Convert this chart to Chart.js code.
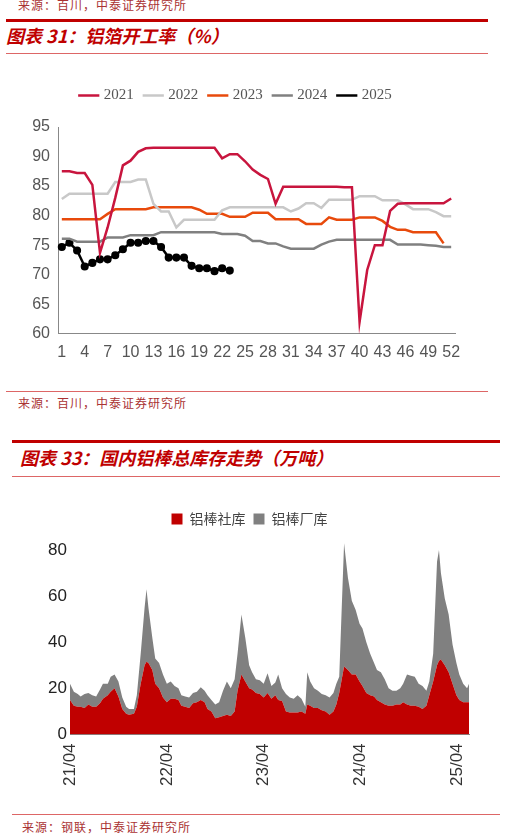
<!DOCTYPE html>
<html>
<head>
<meta charset="utf-8">
<script src="https://cdn.jsdelivr.net/npm/chart.js@4"></script>
<style>
  body { margin: 0; width: 505px; height: 840px; background: #fff; position: relative; overflow: hidden;
         font-family: "Noto Sans CJK SC", sans-serif; }
  .abs { position: absolute; }
  .src { font-size: 12px; color: #a33; letter-spacing: 1px; }
  .title { font-size: 18px; font-weight: bold; font-style: italic; color: #c00000; }
  .thick { height: 3px; background: #c00000; }
  .thin { height: 1px; background: #d66; }
</style>
</head>
<body>
<div class="abs src" style="left:18px;top:-4px;">来源：百川，中泰证券研究所</div>
<div class="abs thick" style="left:6px;top:19px;width:482px;"></div>
<div class="abs title" style="left:6px;top:22px;">图表 31：铝箔开工率（%）</div>
<div class="abs thin" style="left:6px;top:53px;width:482px;"></div>
<div class="abs" style="left:0;top:72px;width:505px;height:300px;"><canvas id="c1"></canvas></div>
<div class="abs thin" style="left:6px;top:391px;width:482px;"></div>
<div class="abs src" style="left:18px;top:394px;">来源：百川，中泰证券研究所</div>

<div class="abs thick" style="left:12px;top:440px;width:488px;"></div>
<div class="abs title" style="left:20px;top:444px;">图表 33：国内铝棒总库存走势（万吨）</div>
<div class="abs thin" style="left:12px;top:476px;width:488px;"></div>
<div class="abs" style="left:0;top:496px;width:505px;height:295px;"><canvas id="c2"></canvas></div>
<div class="abs thin" style="left:12px;top:814px;width:488px;"></div>
<div class="abs src" style="left:22px;top:818px;">来源：钢联，中泰证券研究所</div>

<script>
// chart 1: aluminium foil operating rate (%), by week
var weeks = [];
for (var i = 1; i <= 52; i++) weeks.push(String(i));
var y2021 = [87.5,87.5,87.2,87.2,85.2,73.7,78,83,88.5,89.3,90.8,91.4,91.5,91.5,91.5,91.5,91.5,91.5,91.5,91.5,91.5,89.7,90.4,90.4,89.2,87.8,86.9,86.2,82,84.9,84.9,84.9,84.9,84.9,84.9,84.9,84.9,84.8,84.8,62,70.8,75,75,80.8,82,82.1,82.1,82.1,82.1,82.1,82.1,82.9];
var y2022 = [82.8,83.7,83.7,83.7,83.7,83.7,83.7,85.7,85.7,85.7,86.1,86.1,82,80.7,80.7,78,79.3,79.3,79.3,79.3,79.3,80.9,81.4,81.4,81.4,81.4,81.4,81.4,81.4,81.4,80.7,81.2,82.1,82.1,81.3,82.7,82.7,82.7,82.7,83.3,83.3,83.3,82.6,82.6,82.6,81.9,81.1,81.1,81.1,80.6,79.9,79.9];
var y2023 = [79.4,79.4,79.4,79.4,79.4,79.4,80.3,81.1,81.1,81.1,81.1,81.1,81.4,81.4,81.4,81.4,81.4,81.4,81,80.3,80.3,80.3,79.8,79.8,79.8,80.5,80.5,80.5,79.4,79.4,79.4,79.4,78.6,78.6,78.6,79.7,79.3,79.3,79.3,79.7,79.7,79.7,79.1,78.1,77.6,77.6,77.2,77.2,77.2,77.2,75.3];
var y2024 = [76.1,76.1,75.6,75.6,75.6,75.6,76.3,76.3,76.3,76.7,76.7,76.7,76.7,77.2,77.2,77.2,77.2,77.2,77.2,77.2,77.2,76.9,76.9,76.9,76.6,75.7,75.7,75.3,75.3,74.8,74.4,74.4,74.4,74.4,75.1,75.6,75.9,75.9,75.9,75.9,75.9,75.9,75.9,75.9,75.1,75.1,75.1,75.1,75,74.9,74.7,74.7];
var y2025 = [74.7,75.4,74.1,71.4,72,72.6,72.6,73.3,74.3,75.4,75.4,75.7,75.7,74.7,72.9,72.9,72.9,71.5,71.1,71.1,70.6,71.1,70.7];

// chart 2: aluminium rod inventory (10k t); x in years since 21/04
var yearTicks = ['21/04','22/04','23/04','24/04','25/04'];
var invX = [0,.04,.08,.11,.15,.19,.23,.27,.31,.34,.39,.42,.46,.50,.54,.58,.61,.66,.69,.73,.77,.79,.81,.85,.88,.92,.96,1.0,
  1.04,1.08,1.12,1.15,1.19,1.23,1.27,1.31,1.35,1.39,1.42,1.46,1.50,1.54,1.58,1.62,1.66,1.70,1.73,1.77,1.81,1.85,1.88,1.92,1.96,2.0,
  2.04,2.08,2.12,2.15,2.19,2.23,2.27,2.31,2.35,2.39,2.43,2.45,2.48,2.52,2.56,2.60,2.64,2.68,2.72,2.75,2.78,2.83,2.87,2.91,2.95,2.99,3.02,
  3.06,3.10,3.14,3.17,3.21,3.25,3.29,3.33,3.37,3.41,3.44,3.48,3.52,3.56,3.60,3.64,3.68,3.71,3.75,3.79,3.81,3.83,3.87,3.91,3.95,3.99,4.02,4.06,4.10,4.12];
var invShe = [15,12.5,12,12,11.5,13,12,12,13.5,15.5,17,18.5,20,16.5,11,9,8.5,9,12,22,30,31.5,31,28,22,20,16,14,
  15.5,15.5,15,12.5,12,11.5,13.5,14,15,14,11,10,7,7.5,8,8.5,8,10,19,26,23,20,19.5,18,17.5,16,
  18,15.5,17,15,14.5,10,9.5,9.5,9.5,10,9,13,12.5,11.5,11.5,10.5,10,8.5,10,13,18,29.5,28,26,26,23,21,
  18,17,16.5,15,14,13,12.5,12.5,13,13,14,13,12.5,12.5,12,11,12.5,17,23,30,32,32.5,30,27,22,17,15,14,14,14];
var invChang = [7,6,5.5,4.5,6,5,5,4.5,6,6.5,5,6.5,6,6.5,5,3,2.5,2,5,13,25,31.5,24,14,11,11,10,8,
  7.5,5.5,5,4.5,4.5,4.5,4.5,4.5,5.5,5,6,5,6,6.5,11,14.5,12,14,16,26,19,10,7.5,6,6,6,
  8.5,5.5,5.5,11,5.5,7.5,6.5,6,7.5,5.5,3,14,10.5,8.5,7.5,7,7,7.5,8,9,7,53.5,40,32,28,25,25,
  22,18,14.5,13,13,11,7.5,6.5,6,7,8,13,13,12.5,10,10,6.5,6,12,45,48,37.5,29,25,17,14,11,8,6,8];

Chart.defaults.animation = false;
Chart.defaults.font.family = '"Liberation Sans", Arial, sans-serif';

function lineSet(label, data, color, dots) {
    return {
        label: label,
        data: data,
        borderColor: color,
        backgroundColor: color,
        borderWidth: 2.5,
        pointRadius: dots ? 2.8 : 0,
        pointStyle: 'line',
        tension: 0
    };
}

// shift legend height so the plot sits where the reference has it
function legendGap(extra) {
    return {
        id: 'legendGap',
        beforeInit: function(chart) {
            var fit = chart.legend.fit;
            chart.legend.fit = function() {
                fit.bind(chart.legend)();
                this.height += extra;
            };
        }
    };
}

new Chart(document.getElementById('c1'), {
    type: 'line',
    data: {
        labels: weeks,
        datasets: [
            lineSet('2021', y2021, '#c8153e', false),
            lineSet('2022', y2022, '#c8c8c8', false),
            lineSet('2023', y2023, '#e84a0c', false),
            lineSet('2024', y2024, '#808080', false),
            Object.assign(lineSet('2025', y2025, '#000000', true), { pointStyle: 'circle' })
        ]
    },
    options: {
        responsive: true,
        maintainAspectRatio: false,
        layout: { padding: { left: 18, right: 50, top: 4, bottom: 7 } },
        plugins: {
            legend: {
                labels: {
                    usePointStyle: true, pointStyle: 'line', boxWidth: 40,
                    color: '#555', padding: 12,
                    font: { family: '"Liberation Serif", serif', size: 15 }
                },
                padding: 0
            },
            tooltip: { enabled: false }
        },
        scales: {
            x: {
                offset: true,
                grid: { display: false, drawTicks: true, tickLength: 6, color: '#888' },
                border: { color: '#888' },
                ticks: {
                    autoSkip: false, maxRotation: 0, color: '#555', font: { size: 16 },
                    callback: function(v, i) { return i % 3 === 0 ? weeks[i] : ''; }
                }
            },
            y: {
                min: 60, max: 95,
                afterFit: function(s) { s.width = 40; },
                grid: { display: false, drawTicks: true, tickLength: 5 },
                border: { color: '#888' },
                ticks: { stepSize: 5, color: '#555', font: { size: 16 } }
            }
        }
    },
    plugins: [legendGap(14)]
});

function pts(ys) {
    return ys.map(function(v, i) { return { x: invX[i], y: v }; });
}

new Chart(document.getElementById('c2'), {
    type: 'line',
    data: {
        datasets: [
            { label: '铝棒社库', data: pts(invShe), borderWidth: 0, pointRadius: 0,
              backgroundColor: '#c00000', borderColor: '#c00000', fill: 'origin' },
            { label: '铝棒厂库', data: pts(invChang), borderWidth: 0, pointRadius: 0,
              backgroundColor: '#808080', borderColor: '#808080', fill: '-1' }
        ]
    },
    options: {
        responsive: true,
        maintainAspectRatio: false,
        layout: { padding: { left: 30, right: 36, top: 8, bottom: 2 } },
        plugins: {
            legend: {
                labels: {
                    boxWidth: 11, boxHeight: 11, color: '#444', padding: 8,
                    font: { family: '"Noto Sans CJK SC", sans-serif', size: 14 }
                },
                padding: 0
            },
            tooltip: { enabled: false }
        },
        scales: {
            x: {
                type: 'linear', min: 0, max: 4.12,
                afterBuildTicks: function(s) {
                    s.ticks = yearTicks.map(function(t, i) { return { value: i }; });
                },
                grid: { display: false, drawTicks: true, tickLength: 6, color: '#888' },
                border: { color: '#888' },
                ticks: {
                    autoSkip: false, minRotation: 90, maxRotation: 90,
                    color: '#333', font: { size: 17 },
                    callback: function(v) { return yearTicks[v]; }
                }
            },
            y: {
                stacked: true, min: 0, max: 90,
                afterFit: function(s) { s.width = 40; },
                grid: { display: false, drawTicks: false },
                border: { display: false },
                ticks: { stepSize: 10, color: '#222', font: { size: 17 } }
            }
        }
    },
    plugins: [legendGap(-9)]
});
</script>
</body>
</html>
